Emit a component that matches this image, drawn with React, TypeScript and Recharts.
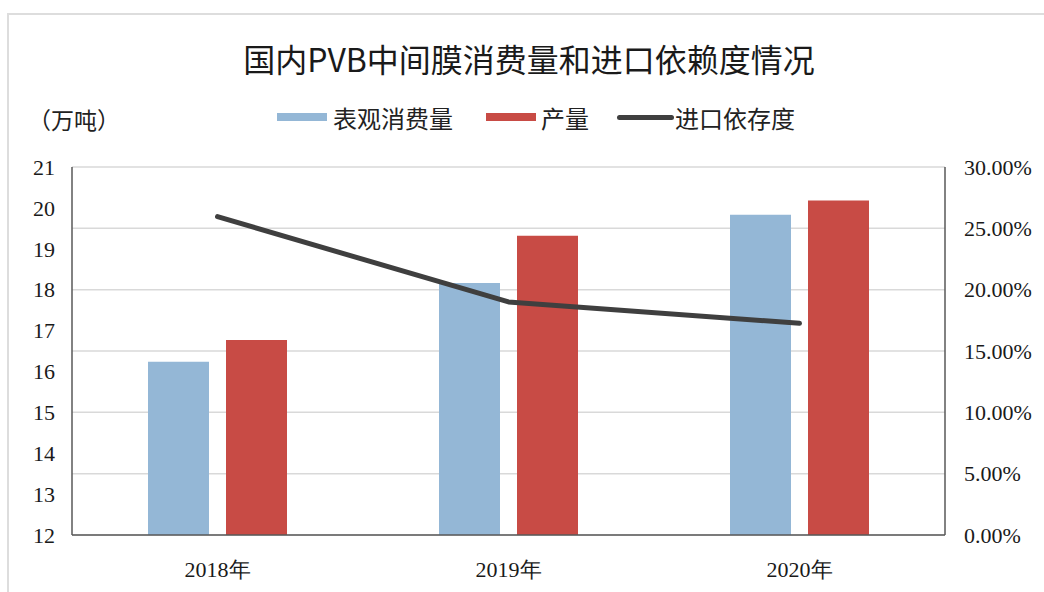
import React from "react";
import {
  Bar,
  CartesianGrid,
  ComposedChart,
  Legend,
  Line,
  XAxis,
  YAxis,
} from "recharts";

// 2018-2020 国内PVB中间膜
const years = ["2018年", "2019年", "2020年"];
const consumption = [16.24, 18.16, 19.83]; // 表观消费量（万吨）
const output = [16.77, 19.32, 20.18]; // 产量（万吨）
const importRatio = [0.2595, 0.19, 0.1726]; // 进口依存度

const leftTicks = [12, 13, 14, 15, 16, 17, 18, 19, 20, 21];
const rightTicks = [0, 0.05, 0.1, 0.15, 0.2, 0.25, 0.3];

const data = years.map((year, i) => ({
  year,
  consumption: consumption[i],
  output: output[i],
  importRatio: importRatio[i],
}));

const BLUE = "#94b7d6";
const RED = "#c84b45";
const DARK = "#3f3f3f";
const serif = '"Liberation Serif", "Times New Roman", serif';
const cjk = '"Noto Sans CJK SC", "Noto Sans", sans-serif';

function LegendBox() {
  const item = (left: number, swatch: React.ReactNode, label: string) => (
    <div
      style={{
        position: "absolute",
        left,
        top: 0,
        display: "flex",
        alignItems: "center",
        height: 30,
        whiteSpace: "nowrap",
      }}
    >
      {swatch}
      <span style={{ fontFamily: cjk, fontSize: 24, color: "#222" }}>
        {label}
      </span>
    </div>
  );
  return (
    <div style={{ position: "relative", width: 1044, height: 30 }}>
      {item(
        277,
        <div style={{ width: 50, height: 8, background: BLUE, marginRight: 6 }} />,
        "表观消费量"
      )}
      {item(
        486,
        <div style={{ width: 50, height: 8, background: RED, marginRight: 5 }} />,
        "产量"
      )}
      {item(
        617,
        <div
          style={{
            width: 57,
            height: 5,
            borderRadius: 3,
            background: DARK,
            marginRight: 1,
          }}
        />,
        "进口依存度"
      )}
    </div>
  );
}

export default function App() {
  return (
    <div
      style={{
        position: "absolute",
        left: 0,
        top: 0,
        width: 1044,
        height: 592,
        overflow: "hidden",
        background: "#fff",
      }}
    >
      <div
        style={{
          position: "absolute",
          left: 7,
          top: 13,
          width: 1100,
          height: 700,
          borderLeft: "2px solid #dddddd",
          borderTop: "2px solid #dddddd",
        }}
      />
      <div
        style={{
          position: "absolute",
          left: 0,
          top: 38,
          width: 1058,
          textAlign: "center",
          fontFamily: cjk,
          fontSize: 32,
          color: "#1a1a1a",
          lineHeight: "40px",
        }}
      >
        国内PVB中间膜消费量和进口依赖度情况
      </div>
      <div
        style={{
          position: "absolute",
          left: 28,
          top: 104,
          fontFamily: cjk,
          fontSize: 23,
          color: "#222",
          lineHeight: "30px",
        }}
      >
        （万吨）
      </div>
      <ComposedChart
        width={1044}
        height={592}
        data={data}
        margin={{ top: 167, right: 0, left: 0, bottom: 17 }}
        barGap={17}
      >
        <CartesianGrid
          yAxisId="right"
          vertical={false}
          stroke="#d9d9d9"
          strokeWidth={1.5}
        />
        <XAxis
          dataKey="year"
          height={40}
          tickLine={false}
          tickSize={0}
          tickMargin={26}
          axisLine={{ stroke: "#595959", strokeWidth: 1.5 }}
          tick={{ fontFamily: serif, fontSize: 22, fill: "#1a1a1a" }}
        />
        <YAxis
          yAxisId="left"
          width={72}
          domain={[12, 21]}
          ticks={leftTicks}
          interval={0}
          tickLine={false}
          tickSize={0}
          tickMargin={17}
          axisLine={{ stroke: "#595959", strokeWidth: 1.5 }}
          tick={{ fontFamily: serif, fontSize: 22, fill: "#1a1a1a" }}
        />
        <YAxis
          yAxisId="right"
          orientation="right"
          width={99}
          domain={[0, 0.3]}
          ticks={rightTicks}
          interval={0}
          tickLine={false}
          tickSize={0}
          tickMargin={19}
          axisLine={{ stroke: "#595959", strokeWidth: 1.5 }}
          tickFormatter={(v: number) => `${(v * 100).toFixed(2)}%`}
          tick={{ fontFamily: serif, fontSize: 22, fill: "#1a1a1a" }}
        />
        <Legend
          layout="horizontal"
          verticalAlign="middle"
          align="center"
          wrapperStyle={{ top: 102, left: 0, width: 1044 }}
          content={() => <LegendBox />}
        />
        <Bar
          yAxisId="left"
          dataKey="consumption"
          name="表观消费量"
          fill={BLUE}
          barSize={61}
          isAnimationActive={false}
        />
        <Bar
          yAxisId="left"
          dataKey="output"
          name="产量"
          fill={RED}
          barSize={61}
          isAnimationActive={false}
        />
        <Line
          yAxisId="right"
          dataKey="importRatio"
          name="进口依存度"
          stroke={DARK}
          strokeWidth={5}
          strokeLinecap="round"
          strokeLinejoin="round"
          dot={false}
          activeDot={false}
          isAnimationActive={false}
        />
      </ComposedChart>
    </div>
  );
}
